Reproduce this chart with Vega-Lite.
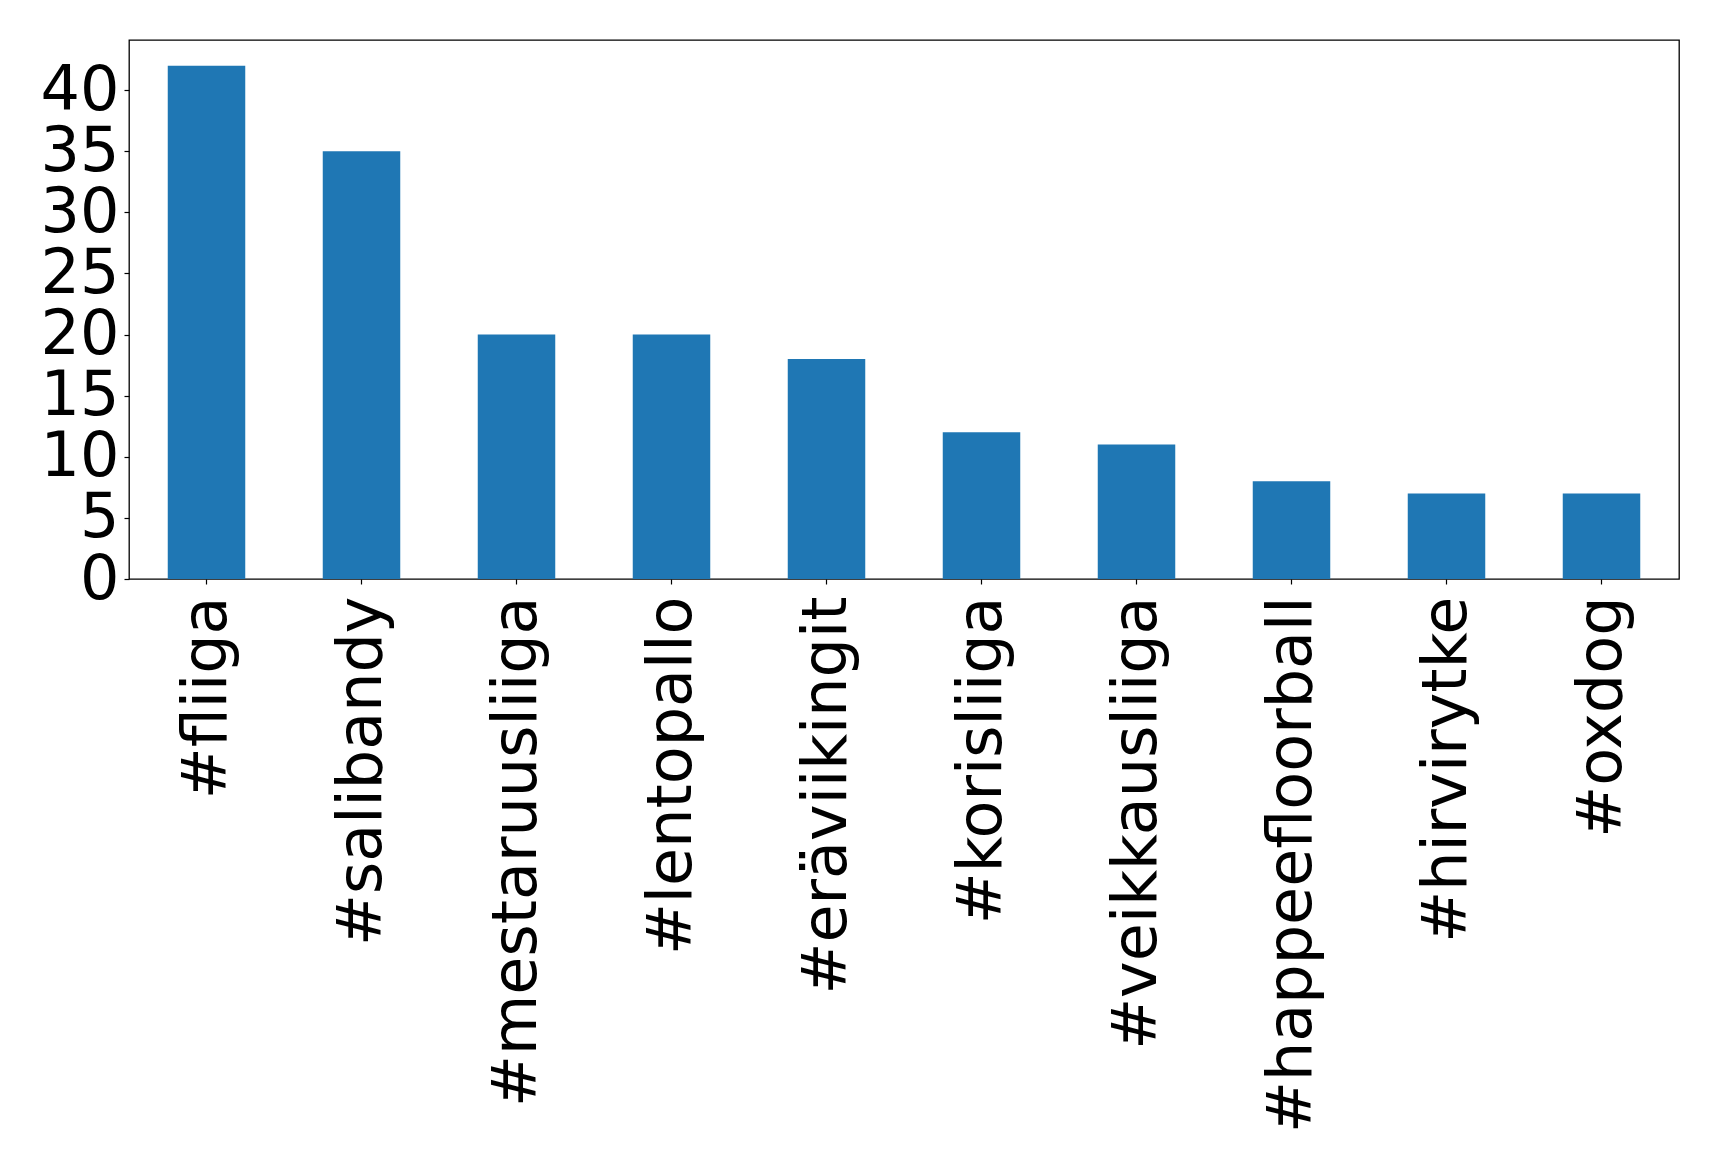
{
  "$schema": "https://vega.github.io/schema/vega-lite/v6.json",
  "width": 1550,
  "height": 539,
  "autosize": {"type": "none"},
  "padding": {"left": 129, "top": 40, "right": 40, "bottom": 590},
  "background": "white",
  "config": {
    "view": {"stroke": "black", "strokeWidth": 1.3},
    "font": "DejaVu Sans"
  },
  "data": {
    "values": [
      {"tag": "#fliiga", "count": 42},
      {"tag": "#salibandy", "count": 35},
      {"tag": "#mestaruusliiga", "count": 20},
      {"tag": "#lentopallo", "count": 20},
      {"tag": "#eräviikingit", "count": 18},
      {"tag": "#korisliiga", "count": 12},
      {"tag": "#veikkausliiga", "count": 11},
      {"tag": "#happeefloorball", "count": 8},
      {"tag": "#hirvirytke", "count": 7},
      {"tag": "#oxdog", "count": 7}
    ]
  },
  "mark": {"type": "bar", "color": "#1f77b4"},
  "encoding": {
    "x": {
      "field": "tag",
      "type": "nominal",
      "sort": null,
      "scale": {"paddingInner": 0.5, "paddingOuter": 0.25},
      "axis": {
        "title": null,
        "labelAngle": -90,
        "labelFontSize": 62,
        "labelFont": "DejaVu Sans",
        "labelColor": "black",
        "labelPadding": 12,
        "tickSize": 5,
        "tickColor": "black",
        "tickWidth": 1.2,
        "domain": false,
        "labelLimit": 0
      }
    },
    "y": {
      "field": "count",
      "type": "quantitative",
      "scale": {"domain": [0, 44.1], "nice": false, "zero": true},
      "axis": {
        "title": null,
        "values": [0, 5, 10, 15, 20, 25, 30, 35, 40],
        "labelFontSize": 62,
        "labelFont": "DejaVu Sans",
        "labelColor": "black",
        "labelPadding": 5,
        "tickSize": 5,
        "tickColor": "black",
        "tickWidth": 1.2,
        "domain": false,
        "grid": false,
        "labelOverlap": false
      }
    }
  }
}
